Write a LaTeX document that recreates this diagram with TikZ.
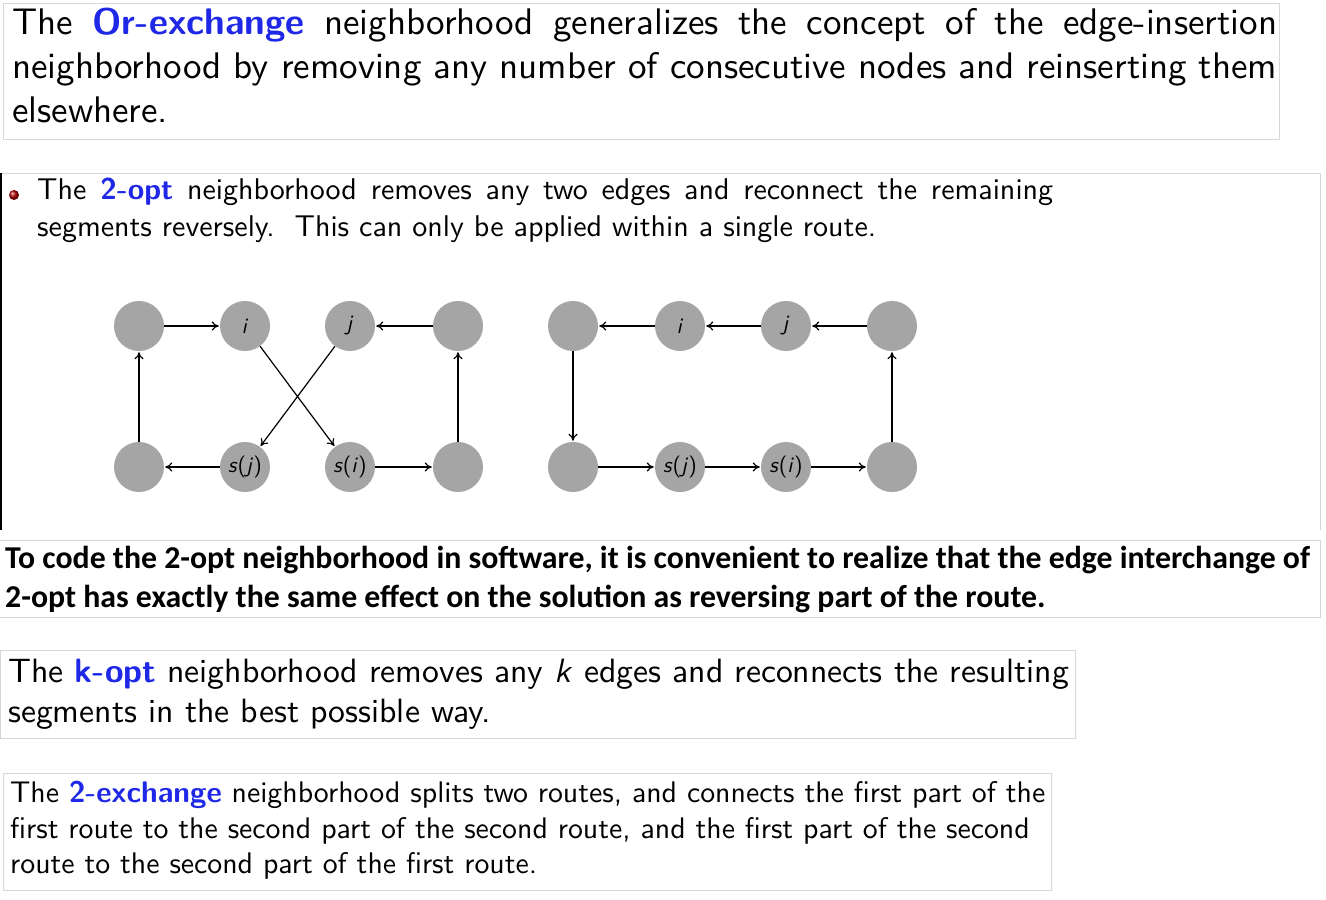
\documentclass[tikz,border=0pt]{standalone}
\usepackage{fontspec}
\setsansfont{lmsans10-regular.otf}[BoldFont=lmsans10-bold.otf, ItalicFont=lmsans10-oblique.otf, BoldItalicFont=lmsans10-boldoblique.otf]
\newfontfamily\carl{Carlito}
\renewcommand{\familydefault}{\sfdefault}
\usetikzlibrary{arrows.meta}
\definecolor{hl}{RGB}{30,40,230}
\definecolor{nodegray}{RGB}{165,165,165}
\definecolor{boxgray}{RGB}{215,215,215}
\tikzset{
  frame/.style={draw=boxgray, line width=1pt},
  ln/.style={anchor=base west, inner sep=0pt},
  par/.style={anchor=north west, inner sep=0pt, align=justify},
  big/.style={ln, font=\fontsize{33.7}{40}\selectfont},
  mid/.style={ln, font=\fontsize{29.8}{35}\selectfont},
  bold/.style={ln, font=\carl\bfseries\fontsize{31.8}{39}\selectfont},
  vtx/.style={circle, fill=nodegray, minimum size=50pt, inner sep=0pt, font=\fontsize{22}{26}\selectfont},
  arr/.style={-{To[length=7pt,width=9pt]}, line width=1.2pt, shorten >=1pt}
}
\begin{document}
\begin{tikzpicture}[x=1pt,y=-1pt]
\useasboundingbox (0,0) rectangle (1326,900);
% box 1
\draw[frame] (3,3) rectangle (1279,139);
\node[par, text width=1265pt, font=\fontsize{37}{44}\selectfont] (a1) at (12,8)
 {The \textcolor{hl}{\textbf{Or-exchange}} neighborhood generalizes the concept of the edge-insertion\linebreak
  neighborhood by removing any number of consecutive nodes and reinserting them\linebreak
  elsewhere.};
% box 2
\draw[draw=boxgray, line width=1pt] (0,173) -- (1320,173) -- (1320,530);
\draw[line width=2pt] (1,173) -- (1,530);
\node[circle, inner sep=0pt, minimum size=10pt, ball color=red!70!black] (bul) at (14,195) {};
\node[par, text width=1016pt, font=\fontsize{30}{37}\selectfont] (b1) at (37,178)
 {The \textcolor{hl}{\textbf{2-opt}} neighborhood removes any two edges and reconnect the remaining\linebreak
  segments reversely.\ \ This can only be applied within a single route.};
% left diagram
\node[vtx] (l1) at (139,326) {};
\node[vtx] (l2) at (245,326) {\textit{i}};
\node[vtx] (l3) at (350,326) {\textit{j}};
\node[vtx] (l4) at (458,326) {};
\node[vtx] (l5) at (139,467) {};
\node[vtx] (l6) at (245,467) {\textit{s}(\textit{j})};
\node[vtx] (l7) at (350,467) {\textit{s}(\textit{i})};
\node[vtx] (l8) at (458,467) {};
\draw[arr] (l1) -- (l2);
\draw[arr] (l4) -- (l3);
\draw[arr] (l5) -- (l1);
\draw[arr] (l8) -- (l4);
\draw[arr] (l6) -- (l5);
\draw[arr] (l7) -- (l8);
\draw[arr] (l2) -- (l7);
\draw[arr] (l3) -- (l6);
% right diagram
\node[vtx] (r1) at (573,326) {};
\node[vtx] (r2) at (680,326) {\textit{i}};
\node[vtx] (r3) at (786,326) {\textit{j}};
\node[vtx] (r4) at (892,326) {};
\node[vtx] (r5) at (573,467) {};
\node[vtx] (r6) at (680,467) {\textit{s}(\textit{j})};
\node[vtx] (r7) at (786,467) {\textit{s}(\textit{i})};
\node[vtx] (r8) at (892,467) {};
\draw[arr] (r4) -- (r3);
\draw[arr] (r3) -- (r2);
\draw[arr] (r2) -- (r1);
\draw[arr] (r1) -- (r5);
\draw[arr] (r5) -- (r6);
\draw[arr] (r6) -- (r7);
\draw[arr] (r7) -- (r8);
\draw[arr] (r8) -- (r4);
% bold box
\draw[frame] (0,540) -- (1320,540) -- (1320,617) -- (0,617);
\node[bold] (c1) at (5,568) {To code the 2-opt neighborhood in software, it is convenient to realize that the edge interchange of};
\node[bold] (c2) at (5,607) {2-opt has exactly the same effect on the solution as reversing part of the route.};
% box 4
\draw[frame] (0,650) rectangle (1075,738);
\node[big] (d1) at (8,682) {The \textcolor{hl}{\textbf{k-opt}} neighborhood removes any \textit{k} edges and reconnects the resulting};
\node[big] (d2) at (8,722) {segments in the best possible way.};
% box 5
\draw[frame] (3,773) rectangle (1051,890);
\node[mid] (e1) at (10,802) {The \textcolor{hl}{\textbf{2-exchange}} neighborhood splits two routes, and connects the first part of the};
\node[mid] (e2) at (10,838) {first route to the second part of the second route, and the first part of the second};
\node[mid] (e3) at (10,873) {route to the second part of the first route.};
\end{tikzpicture}
\end{document}
